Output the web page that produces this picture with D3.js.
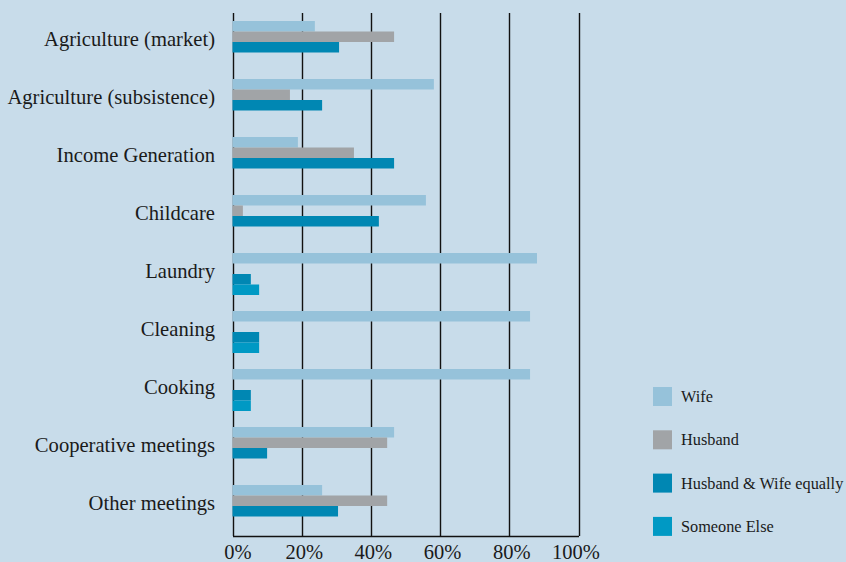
<!DOCTYPE html>
<html lang="en">
<head>
	<meta charset="UTF-8">
	<title>Household tasks</title>
	<script src="https://cdn.jsdelivr.net/npm/d3@7"></script>
	<style>
		html, body { margin: 0; padding: 0; background: #c8dcea; }
		svg { display: block; font-family: "Liberation Serif", "DejaVu Serif", serif; }
	</style>
</head>
<body>
	<svg id="grafico" width="846" height="562"></svg>
	<script>
	// data (percent)
	var categories = ["Agriculture (market)", "Agriculture (subsistence)", "Income Generation",
		"Childcare", "Laundry", "Cleaning", "Cooking", "Cooperative meetings", "Other meetings"];
	var series = ["Wife", "Husband", "Husband & Wife equally", "Someone Else"];
	var wife = [23.8, 58.2, 18.9, 55.9, 88.0, 86.0, 86.0, 46.7, 25.9];
	var husband = [46.7, 16.6, 35.1, 3.0, 0, 0, 0, 44.7, 44.7];
	var both = [30.8, 25.9, 46.7, 42.3, 5.3, 7.7, 5.3, 10.0, 30.5];
	var someoneElse = [0, 0, 0, 0, 7.7, 7.7, 5.3, 0, 0];
	var ticks = [0, 20, 40, 60, 80, 100];
	var colors = ["#96c2da", "#a1a4a7", "#0087b3", "#0099c4"];

	var values = [wife, husband, both, someoneElse];
	var svg = d3.select("#grafico");

	var x = d3.scaleLinear().domain([0, 100]).range([232.5, 578.5]);
	var y = d3.scaleBand().domain(categories).range([13, 535]).paddingInner(0.276).paddingOuter(0.138);
	var yInner = d3.scaleBand().domain(series).range([0, y.bandwidth()]);

	// grid lines
	svg.append("g").selectAll("line")
		.data(ticks).enter().append("line")
		.attr("x1", function(d){ return Math.round(x(d)) + 0.5; })
		.attr("x2", function(d){ return Math.round(x(d)) + 0.5; })
		.attr("y1", 13).attr("y2", 536)
		.attr("stroke", "#111").attr("stroke-width", 1.4);

	// bars
	var groups = svg.append("g").selectAll("g")
		.data(categories).enter().append("g")
		.attr("transform", function(d){ return "translate(0," + y(d) + ")"; });

	groups.selectAll("rect")
		.data(function(d, i){ return series.map(function(s, j){ return {s: s, j: j, v: values[j][i]}; }); })
		.enter().append("rect")
		.attr("x", x(0))
		.attr("y", function(d){ return yInner(d.s); })
		.attr("width", function(d){ return x(d.v) - x(0); })
		.attr("height", yInner.bandwidth())
		.attr("fill", function(d){ return colors[d.j]; });

	// bottom axis
	var xAxis = d3.axisBottom(x).tickValues(ticks).tickSize(0).tickPadding(10)
		.tickFormat(function(d){ return d + "%"; });
	var gx = svg.append("g").attr("transform", "translate(0,536)").call(xAxis);
	gx.select(".domain").attr("stroke", "#111").attr("stroke-width", 1.4);
	gx.selectAll("text")
		.attr("font-family", "Liberation Serif, serif")
		.attr("font-size", 20.5).attr("fill", "#1a1a1a")
		.attr("dy", "0.62em")
		.attr("dx", function(d){ return d === 0 ? 5 : (d === 100 ? -3 : 2); });

	// category labels
	svg.append("g").selectAll("text")
		.data(categories).enter().append("text")
		.attr("x", 215)
		.attr("y", function(d){ return y(d) + y.bandwidth() / 2 - 3; })
		.attr("dy", "0.33em")
		.attr("text-anchor", "end")
		.attr("font-size", 20.6).attr("fill", "#1a1a1a")
		.text(function(d){ return d; });

	// legend
	var legend = svg.append("g").selectAll("g")
		.data(series).enter().append("g")
		.attr("transform", function(d, i){ return "translate(653," + (387 + i * 43.3) + ")"; });
	legend.append("rect").attr("width", 19).attr("height", 19)
		.attr("fill", function(d, i){ return colors[i]; });
	legend.append("text").attr("x", 28).attr("y", 15)
		.attr("font-size", 16.3).attr("fill", "#1a1a1a")
		.text(function(d){ return d; });
	</script>
</body>
</html>
